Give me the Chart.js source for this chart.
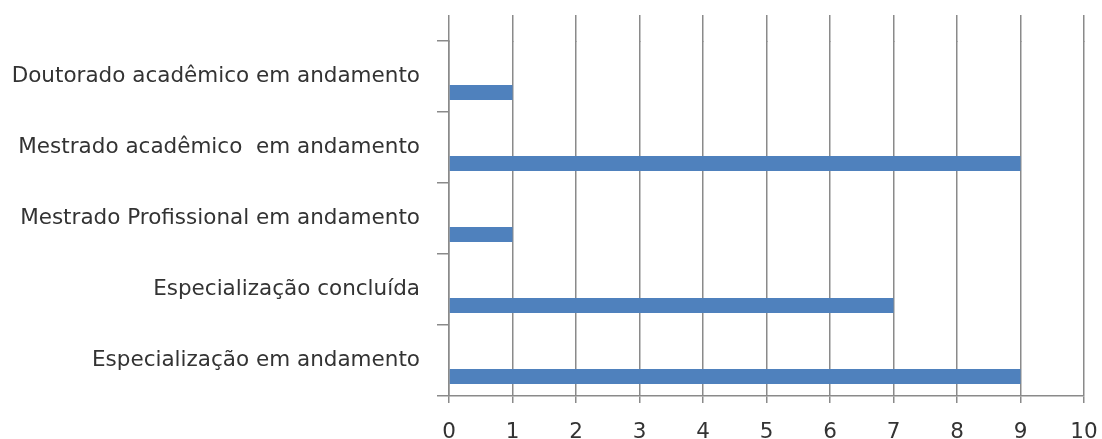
<!DOCTYPE html>
<html>
<head>
<meta charset="utf-8">
<script src="https://cdn.jsdelivr.net/npm/chart.js@4"></script>
<style>
  body { margin: 0; background: #fff; }
  #wrap { width: 1102px; height: 439px; position: relative; }
</style>
</head>
<body>
<div id="wrap"><canvas id="barChart"></canvas></div>
<script>
// dados
const categorias = [
  "Doutorado acadêmico em andamento",
  "Mestrado acadêmico  em andamento",
  "Mestrado Profissional em andamento",
  "Especialização concluída",
  "Especialização em andamento"
];
const serieVazia = [null, null, null, null, null];   // série sem valores (ocupa a metade de cima)
const quantidade = [1, 9, 1, 7, 9];
const ticksX = [0, 1, 2, 3, 4, 5, 6, 7, 8, 9, 10];

const corGrade = "#8a8a8a";
const fonte = { family: "DejaVu Sans", size: 21.5 };

// prolonga as linhas verticais acima da área do gráfico
const gradeTopo = {
  id: "gradeTopo",
  beforeDatasetsDraw(chart, args, opts) {
    const { ctx, chartArea, scales } = chart;
    const x = scales.x;
    ctx.save();
    ctx.strokeStyle = corGrade;
    ctx.lineWidth = 1.5;
    x.ticks.forEach((t, i) => {
      const px = Math.round(x.getPixelForTick(i) - 0.75) + 0.75;
      ctx.beginPath();
      ctx.moveTo(px, chartArea.top - opts.extra);
      ctx.lineTo(px, chartArea.top + 1);
      ctx.stroke();
    });
    ctx.restore();
  }
};

const ctx = document.getElementById("barChart").getContext("2d");
new Chart(ctx, {
  type: "bar",
  data: {
    labels: categorias,
    datasets: [
      { label: "", data: serieVazia, backgroundColor: "#4F81BD" },
      { label: "Quantidade", data: quantidade, backgroundColor: "#4F81BD" }
    ]
  },
  options: {
    indexAxis: "y",
    responsive: true,
    maintainAspectRatio: false,
    animation: false,
    categoryPercentage: 0.9,
    barPercentage: 0.47,
    layout: { padding: { top: 41, right: 18, left: 0, bottom: 0 } },
    plugins: {
      legend: { display: false },
      tooltip: { enabled: false },
      gradeTopo: { extra: 26 }
    },
    scales: {
      x: {
        min: 0, max: 10,
        afterBuildTicks: (s) => { s.ticks = ticksX.map(v => ({ value: v })); },
        grid: { color: corGrade, lineWidth: 1.5, tickLength: 7, tickColor: corGrade, tickWidth: 1.5 },
        border: { color: corGrade, width: 1.5 },
        ticks: { color: "#333", font: { ...fonte, lineHeight: 1.2 }, padding: 17, maxRotation: 0 },
        afterFit: (s) => { s.height = 43; s.paddingRight = 0; s.paddingLeft = 0; }
      },
      y: {
        grid: { drawOnChartArea: false, offset: true, tickLength: 12, color: corGrade, lineWidth: 1.5 },
        border: { color: corGrade, width: 1.5 },
        ticks: { color: "#333", font: fonte, padding: 17 },
        afterFit: (s) => { s.width = 449; }
      }
    }
  },
  plugins: [gradeTopo]
});
</script>
</body>
</html>
